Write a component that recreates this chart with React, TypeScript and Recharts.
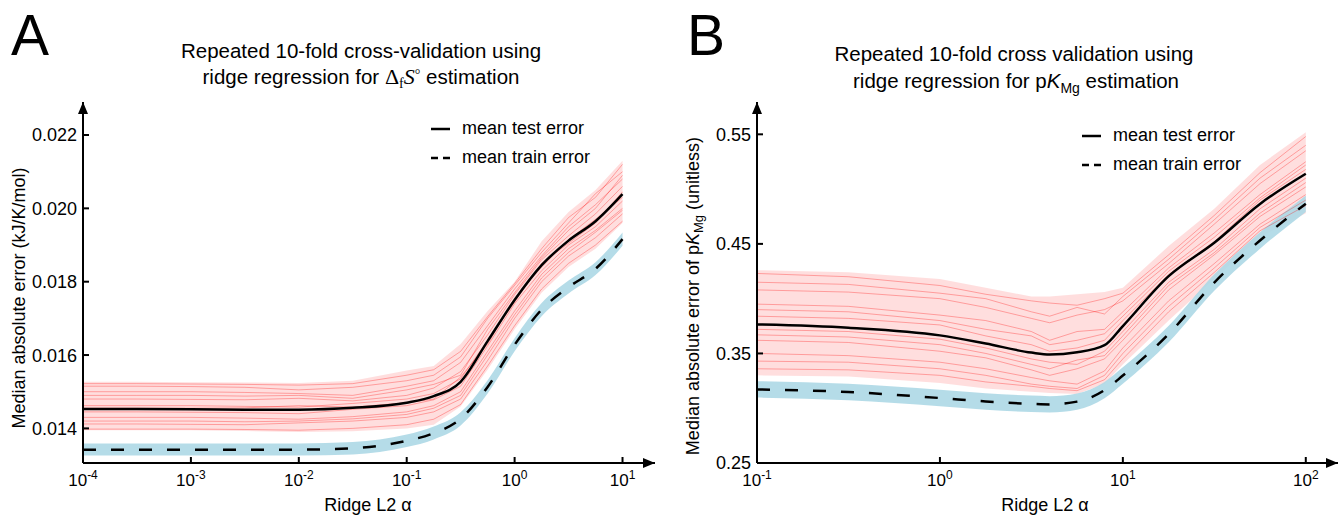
import React from 'react';
import { ComposedChart, Line, Area, XAxis, YAxis, Legend } from 'recharts';

const FONT = '"Liberation Sans", Arial, sans-serif';
const SERIF = '"Liberation Serif", "DejaVu Serif", serif';

// ---- panel A: ridge regression for entropy of formation ----
const alphaA = [0.0001, 0.000316, 0.001, 0.00316, 0.01, 0.0316, 0.1, 0.178, 0.316, 0.562, 1, 1.78, 3.16, 5.62, 10];
const meanTestA = [0.01453, 0.01453, 0.01452, 0.01451, 0.01451, 0.01456, 0.0147, 0.01488, 0.01527, 0.01638, 0.0175, 0.01845, 0.01912, 0.01965, 0.02039];
const meanTrainA = [0.01342, 0.01342, 0.01342, 0.01342, 0.01342, 0.01346, 0.01366, 0.01387, 0.01426, 0.01513, 0.01628, 0.01724, 0.01785, 0.01835, 0.01916];
const testLowA = [0.01395, 0.01395, 0.01395, 0.01393, 0.0139, 0.01392, 0.014, 0.0141, 0.0146, 0.0156, 0.0167, 0.0177, 0.0184, 0.0189, 0.0196];
const testHighA = [0.01527, 0.01527, 0.01526, 0.01525, 0.01524, 0.0153, 0.01558, 0.0157, 0.0163, 0.0172, 0.018, 0.0191, 0.0199, 0.0205, 0.0213];
const trainLowA = [0.01326, 0.01326, 0.01326, 0.01326, 0.01326, 0.01329, 0.01349, 0.0137, 0.01408, 0.01495, 0.0161, 0.01706, 0.01768, 0.01818, 0.01898];
const trainHighA = [0.01359, 0.01359, 0.01359, 0.01359, 0.01359, 0.01363, 0.01383, 0.01405, 0.01444, 0.01531, 0.01646, 0.01742, 0.01803, 0.01853, 0.01934];
const testRunsA = [
  [0.01522, 0.01522, 0.01521, 0.0152, 0.01518, 0.01522, 0.01545, 0.0156, 0.0161, 0.01705, 0.01795, 0.0189, 0.01975, 0.0203, 0.0212],
  [0.01515, 0.01515, 0.01514, 0.01512, 0.01505, 0.01512, 0.0153, 0.01545, 0.01595, 0.017, 0.0179, 0.0188, 0.0196, 0.0204, 0.021],
  [0.015, 0.015, 0.015, 0.01498, 0.01495, 0.0149, 0.01515, 0.0153, 0.0158, 0.0168, 0.0178, 0.0187, 0.0195, 0.0201, 0.0208],
  [0.0149, 0.0149, 0.0149, 0.01488, 0.0149, 0.01482, 0.01505, 0.0152, 0.01545, 0.0167, 0.0177, 0.01865, 0.0194, 0.02, 0.0209],
  [0.0148, 0.0148, 0.01479, 0.01478, 0.01482, 0.01475, 0.0149, 0.0151, 0.01555, 0.01655, 0.01765, 0.0186, 0.01925, 0.01985, 0.0206],
  [0.01462, 0.01462, 0.01462, 0.0146, 0.01458, 0.01468, 0.0148, 0.01495, 0.01535, 0.0164, 0.01745, 0.0185, 0.01905, 0.0196, 0.02045],
  [0.01455, 0.01455, 0.01455, 0.01456, 0.01462, 0.01458, 0.0147, 0.0148, 0.0154, 0.0163, 0.01755, 0.0184, 0.01915, 0.0197, 0.0203],
  [0.01445, 0.01445, 0.01444, 0.01443, 0.0144, 0.01452, 0.01462, 0.01478, 0.01515, 0.01625, 0.0174, 0.0183, 0.019, 0.0195, 0.0202],
  [0.0143, 0.0143, 0.0143, 0.01428, 0.01425, 0.01432, 0.01445, 0.01462, 0.015, 0.0161, 0.0172, 0.0182, 0.0189, 0.0194, 0.02],
  [0.0142, 0.0142, 0.0142, 0.01418, 0.0142, 0.01426, 0.01438, 0.01455, 0.0149, 0.016, 0.0171, 0.0181, 0.0188, 0.01935, 0.01995],
  [0.01412, 0.01412, 0.01411, 0.0141, 0.01415, 0.0142, 0.0143, 0.01445, 0.0148, 0.01585, 0.017, 0.018, 0.0187, 0.0192, 0.01985],
  [0.01398, 0.01398, 0.01398, 0.01397, 0.01395, 0.014, 0.0141, 0.01425, 0.01465, 0.0157, 0.0168, 0.0178, 0.0185, 0.019, 0.01965],
];
const xTicksA = [0.0001, 0.001, 0.01, 0.1, 1, 10];
const yTicksA = [0.014, 0.016, 0.018, 0.02, 0.022];

// ---- panel B: ridge regression for pKMg ----
const alphaB = [0.1, 0.316, 1, 1.78, 3.16, 3.98, 5.62, 7.94, 10, 17.8, 31.6, 56.2, 100];
const meanTestB = [0.3765, 0.3735, 0.3665, 0.359, 0.3508, 0.349, 0.351, 0.3575, 0.375, 0.4205, 0.451, 0.4865, 0.514];
const meanTrainB = [0.3172, 0.3148, 0.3093, 0.3062, 0.304, 0.3035, 0.306, 0.3165, 0.3298, 0.3677, 0.4147, 0.4531, 0.4867];
const testLowB = [0.33, 0.329, 0.323, 0.318, 0.315, 0.314, 0.313, 0.322, 0.34, 0.38, 0.418, 0.456, 0.478];
const testHighB = [0.426, 0.424, 0.418, 0.41, 0.402, 0.402, 0.404, 0.406, 0.41, 0.448, 0.482, 0.522, 0.552];
const trainLowB = [0.3097, 0.3073, 0.3018, 0.2987, 0.2965, 0.296, 0.2985, 0.309, 0.3223, 0.3602, 0.4072, 0.4456, 0.4792];
const trainHighB = [0.3247, 0.3223, 0.3168, 0.3137, 0.3115, 0.311, 0.3135, 0.324, 0.3373, 0.3752, 0.4222, 0.4606, 0.4942];
const testRunsB = [
  [0.423, 0.42, 0.412, 0.404, 0.398, 0.396, 0.394, 0.4, 0.405, 0.44, 0.476, 0.515, 0.548],
  [0.415, 0.413, 0.405, 0.4, 0.388, 0.384, 0.392, 0.386, 0.402, 0.436, 0.472, 0.51, 0.54],
  [0.408, 0.406, 0.4, 0.392, 0.382, 0.378, 0.385, 0.39, 0.398, 0.432, 0.468, 0.505, 0.535],
  [0.395, 0.393, 0.385, 0.38, 0.37, 0.362, 0.37, 0.372, 0.388, 0.428, 0.46, 0.495, 0.525],
  [0.39, 0.388, 0.38, 0.372, 0.366, 0.358, 0.362, 0.368, 0.384, 0.425, 0.456, 0.492, 0.522],
  [0.384, 0.382, 0.376, 0.366, 0.358, 0.352, 0.355, 0.362, 0.38, 0.422, 0.452, 0.49, 0.518],
  [0.372, 0.37, 0.363, 0.355, 0.345, 0.342, 0.34, 0.352, 0.37, 0.415, 0.445, 0.482, 0.51],
  [0.367, 0.365, 0.358, 0.35, 0.34, 0.336, 0.344, 0.348, 0.366, 0.412, 0.442, 0.478, 0.506],
  [0.362, 0.36, 0.352, 0.346, 0.335, 0.33, 0.336, 0.345, 0.362, 0.408, 0.44, 0.475, 0.502],
  [0.35, 0.348, 0.342, 0.336, 0.328, 0.325, 0.322, 0.334, 0.355, 0.398, 0.432, 0.468, 0.495],
  [0.343, 0.342, 0.336, 0.33, 0.322, 0.32, 0.318, 0.33, 0.35, 0.393, 0.428, 0.465, 0.49],
  [0.336, 0.335, 0.33, 0.324, 0.32, 0.318, 0.316, 0.326, 0.345, 0.388, 0.424, 0.462, 0.485],
];
const xTicksB = [0.1, 1, 10, 100];
const yTicksB = [0.25, 0.35, 0.45, 0.55];

const legendLabels = ['mean test error', 'mean train error'];

function buildRows(alpha, test, train, tLow, tHigh, trLow, trHigh, runs) {
  return alpha.map((a, i) => {
    const row: any = {
      alpha: a,
      test: test[i],
      train: train[i],
      testBand: [tLow[i], tHigh[i]],
      trainBand: [trLow[i], trHigh[i]],
    };
    runs.forEach((run, k) => {
      row['run' + k] = run[i];
    });
    return row;
  });
}

const rowsA = buildRows(alphaA, meanTestA, meanTrainA, testLowA, testHighA, trainLowA, trainHighA, testRunsA);
const rowsB = buildRows(alphaB, meanTestB, meanTrainB, testLowB, testHighB, trainLowB, trainHighB, testRunsB);

const PowTick = (props: any) => {
  const { x, y, payload } = props;
  const exp = Math.round(Math.log10(payload.value));
  return (
    <g>
      <line x1={x} x2={x} y1={y} y2={y - 6} stroke="#000" strokeWidth={2} />
      <text x={x} y={y + 23} textAnchor="middle" fontFamily={FONT} fontSize={17} fill="#000">
        <tspan>10</tspan>
        <tspan dy={-7} fontSize={12}>{exp}</tspan>
      </text>
    </g>
  );
};

const makeYTick = (digits: number) => (props: any) => {
  const { x, y, payload } = props;
  return (
    <g>
      <line x1={x} x2={x + 6} y1={y} y2={y} stroke="#000" strokeWidth={2} />
      <text x={x - 6} y={y} dy="0.36em" textAnchor="end" fontFamily={FONT} fontSize={18} fill="#000">
        {payload.value.toFixed(digits)}
      </text>
    </g>
  );
};

const LegendBox = () => (
  <div style={{ fontFamily: FONT, fontSize: 18, lineHeight: '29px', color: '#000' }}>
    {legendLabels.map((label, i) => (
      <div key={label} style={{ display: 'flex', alignItems: 'center' }}>
        <svg width={19} height={10} style={{ marginRight: 12 }}>
          <line x1={0} x2={19} y1={5} y2={5} stroke="#000" strokeWidth={2.5} strokeDasharray={i ? '7 5' : undefined} />
        </svg>
        {label}
      </div>
    ))}
  </div>
);

function Panel({ rows, runs, xDomain, xTicks, yDomain, yTicks, digits, margin, legendPos }) {
  return (
    <ComposedChart width={670} height={518} data={rows} margin={margin}>
      <XAxis
        dataKey="alpha"
        type="number"
        scale="log"
        domain={xDomain}
        ticks={xTicks}
        interval={0}
        allowDataOverflow
        height={30}
        tickSize={0}
        tickMargin={0}
        tickLine={false}
        tick={<PowTick />}
        axisLine={{ stroke: '#000', strokeWidth: 2, markerEnd: 'url(#axisArrow)' }}
      />
      <YAxis
        type="number"
        domain={yDomain}
        ticks={yTicks}
        interval={0}
        allowDataOverflow
        width={60}
        tickSize={0}
        tickMargin={0}
        tickLine={false}
        tick={makeYTick(digits)}
        axisLine={{ stroke: '#000', strokeWidth: 2, markerStart: 'url(#axisArrow)' }}
      />
      <Area dataKey="testBand" stroke="none" fill="#ff0000" fillOpacity={0.13} isAnimationActive={false} legendType="none" />
      {runs.map((_, k) => (
        <Line
          key={k}
          dataKey={'run' + k}
          type="linear"
          stroke="#ff0000"
          strokeOpacity={0.3}
          strokeWidth={1}
          dot={false}
          isAnimationActive={false}
          legendType="none"
        />
      ))}
      <Area dataKey="trainBand" type="monotone" stroke="none" fill="#add8e6" fillOpacity={0.9} isAnimationActive={false} legendType="none" />
      <Line dataKey="test" type="monotone" stroke="#000" strokeWidth={2.5} dot={false} isAnimationActive={false} />
      <Line dataKey="train" type="monotone" stroke="#000" strokeWidth={2.5} strokeDasharray="13 15" dot={false} isAnimationActive={false} />
      <Legend
        layout="vertical"
        align="center"
        verticalAlign="middle"
        content={<LegendBox />}
        wrapperStyle={{ left: legendPos[0], top: legendPos[1], width: 240 }}
      />
    </ComposedChart>
  );
}

export default function App() {
  return (
    <div style={{ position: 'absolute', left: 0, top: 0, width: 1340, height: 518, background: '#fff', overflow: 'hidden' }}>
      <svg width={0} height={0} style={{ position: 'absolute' }}>
        <defs>
          <marker
            id="axisArrow"
            viewBox="0 0 12 10"
            refX={12}
            refY={5}
            markerWidth={12}
            markerHeight={10}
            markerUnits="userSpaceOnUse"
            orient="auto-start-reverse"
          >
            <path d="M0,0 L12,5 L0,10 z" fill="#000" />
          </marker>
        </defs>
      </svg>
      <div style={{ position: 'absolute', left: 0, top: 0 }}>
        <Panel
          rows={rowsA}
          runs={testRunsA}
          xDomain={[0.0001, 20]}
          xTicks={xTicksA}
          yDomain={[0.013056, 0.0229]}
          yTicks={yTicksA}
          digits={3}
          margin={{ top: 102, right: 15, bottom: 25, left: 23 }}
          legendPos={[431, 114]}
        />
      </div>
      <div style={{ position: 'absolute', left: 670, top: 0 }}>
        <Panel
          rows={rowsB}
          runs={testRunsB}
          xDomain={[0.1, 150]}
          xTicks={xTicksB}
          yDomain={[0.25, 0.5795]}
          yTicks={yTicksB}
          digits={2}
          margin={{ top: 102, right: 2, bottom: 25, left: 27 }}
          legendPos={[412, 121]}
        />
      </div>
      <svg width={1340} height={518} style={{ position: 'absolute', left: 0, top: 0, pointerEvents: 'none' }} fontFamily={FONT} fill="#000">
        <text x={11} y={55} fontSize={57}>A</text>
        <text x={687} y={55} fontSize={57}>B</text>

        <text x={361} y={58} textAnchor="middle" fontSize={20.5}>Repeated 10-fold cross-validation using</text>
        <text x={361} y={84} textAnchor="middle" fontSize={20.5}>
          ridge regression for{' '}
          <tspan fontFamily={SERIF} fontSize={22}>Δ</tspan>
          <tspan fontFamily={SERIF} fontSize={14} dy={4}>f</tspan>
          <tspan fontFamily={SERIF} fontStyle="italic" fontSize={22} dy={-4}>S</tspan>
          <tspan fontFamily={SERIF} fontSize={14} dy={-5}>°</tspan>
          <tspan dy={5}> estimation</tspan>
        </text>

        <text x={1014} y={61} textAnchor="middle" fontSize={20.5}>Repeated 10-fold cross validation using</text>
        <text x={1016} y={88} textAnchor="middle" fontSize={20.5}>
          ridge regression for p
          <tspan fontStyle="italic">K</tspan>
          <tspan fontSize={14} dy={5}>Mg</tspan>
          <tspan dy={-5}> estimation</tspan>
        </text>

        <text x={368} y={511} textAnchor="middle" fontSize={18}>Ridge L2 α</text>
        <text x={1045} y={511} textAnchor="middle" fontSize={18}>Ridge L2 α</text>

        <text x={25} y={298} textAnchor="middle" fontSize={18} transform="rotate(-90 25 298)">
          Median absolute error (kJ/K/mol)
        </text>
        <text x={699} y={296} textAnchor="middle" fontSize={18} transform="rotate(-90 699 296)">
          Median absolute error of p
          <tspan fontStyle="italic">K</tspan>
          <tspan fontSize={13} dy={4}>Mg</tspan>
          <tspan dy={-4}> (unitless)</tspan>
        </text>
      </svg>
    </div>
  );
}
